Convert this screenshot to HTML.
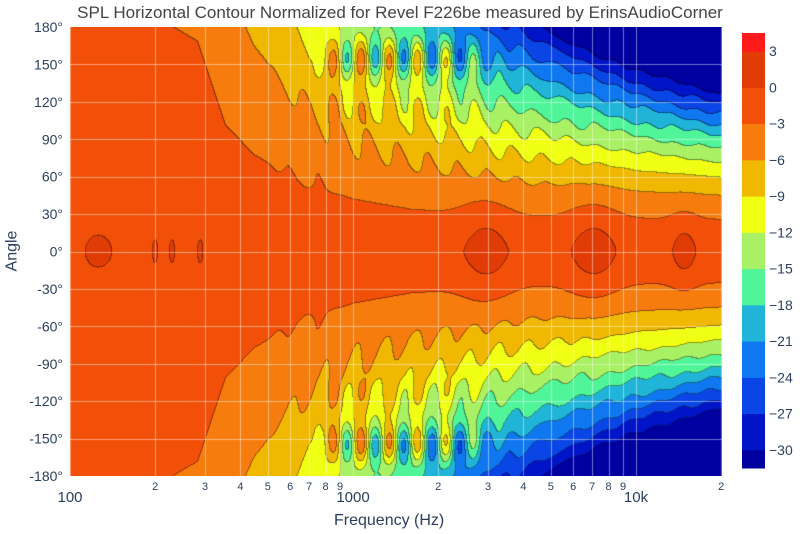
<!DOCTYPE html>
<html><head><meta charset="utf-8"><style>
body{margin:0;background:#fff;width:800px;height:534px;overflow:hidden;position:relative;font-family:"Liberation Sans",sans-serif;color:#2a3f5f}
.t{position:absolute;white-space:nowrap}
#c{position:absolute;left:70px;top:27px}
</style></head><body>
<div class="t" style="left:0;width:800px;top:3px;text-align:center;font-size:17px;color:#444">SPL Horizontal Contour Normalized for Revel F226be measured by ErinsAudioCorner</div>
<canvas id="c" width="652" height="449"></canvas>
<svg style="position:absolute;left:0;top:0" width="800" height="534" id="s"></svg>
<div class="t" style="left:334px;top:512px;font-size:16px">Frequency (Hz)</div>
<div class="t" style="left:-8px;top:242px;font-size:16px;transform:rotate(-90deg)">Angle</div>
<script>
const W=652,H=449,D=283;
const cols=["#0000a0","#0014c8","#0a46e6","#0f78f0","#20b4d8","#50f59a","#a8f064","#f0ff14","#f0b800","#f67c0e","#f25008","#e23c06","#ff1a1a"];
const rgb=cols.map(h=>[parseInt(h.substr(1,2),16),parseInt(h.substr(3,2),16),parseInt(h.substr(5,2),16)]);
const At=[[0,400],[0.2,300],[0.45,250],[0.55,150],[0.65,115],[0.8,85],[1.0,62],[1.2,50],[1.5,41],[2.0,36],[2.35,34]];
function A3(u){for(let i=1;i<At.length;i++){if(u<=At[i][0]){const[a0,b0]=At[i-1],[a1,b1]=At[i];return b0+(b1-b0)*(u-a0)/(a1-a0);}}return 34;}
function cl(x){return Math.max(0,Math.min(1,x));}
function val(u,a){
 const r=a/A3(u);const p=1.3+0.4*Math.max(0,u-1.2);
 let v=-1.2-3*Math.pow(r,p);
 const w=cl((a-100)/50)*cl((u-0.85)/0.12)*cl((1.55-u)/0.2);
 v-=8*w*Math.cos(2*Math.PI*(u-1.08)/0.1)*(0.6+0.4*Math.cos((a-155)*Math.PI/25));
 v+=1.0*cl((a-45)/30)*cl((u-0.7)/0.2)*cl((1.9-u)/0.3)*Math.sin(2*Math.PI*u/0.1+a/20);
 v+=0.8*cl((a-60)/40)*cl((u-1.5)/0.2)*Math.sin(u*47+a/9)*Math.cos(u*23-a/13);
 const bs=[[1.47,0.09,42,2.6],[1.85,0.09,42,2.6],[2.17,0.05,30,2.3],[0.1,0.06,17,2.2],[0.46,0.012,12,2.2],[0.36,0.012,12,2.2],[0.3,0.012,12,2.2]];
 for(const[b,su,sa,am]of bs)v+=am*Math.exp(-Math.pow(Math.abs(u-b)/su,2)-Math.pow(a/sa,2));
 return v;}
const ctx=document.getElementById('c').getContext('2d');
const img=ctx.createImageData(W,H);const band=new Int8Array(W*H);
for(let y=0;y<H;y++){const a=Math.abs(180-360*y/(H-1));for(let x=0;x<W;x++){const u=x/D;const v=val(u,a);let b=Math.floor(v/3)+11;b=Math.max(0,Math.min(12,b));band[y*W+x]=b;}}
for(let y=0;y<H;y++)for(let x=0;x<W;x++){const i=y*W+x,b=band[i];let c=rgb[b];let e=(x<W-1&&band[i+1]!==b)||(y<H-1&&band[i+W]!==b);const k=e?0.6:1;img.data[i*4]=c[0]*k;img.data[i*4+1]=c[1]*k;img.data[i*4+2]=c[2]*k;img.data[i*4+3]=255;}
ctx.putImageData(img,0,0);
ctx.strokeStyle="rgba(255,255,255,0.45)";ctx.lineWidth=1;
for(let d=0;d<3;d++)for(let m=1;m<=9;m++){const f=Math.pow(10,d)*m;const x=Math.round(Math.log10(f)*D)+0.5;if(x>0&&x<W){ctx.beginPath();ctx.moveTo(x,0);ctx.lineTo(x,H);ctx.stroke();}}
for(let k=1;k<12;k++){const y=Math.round(k*H/12)+0.5;ctx.beginPath();ctx.moveTo(0,y);ctx.lineTo(W,y);ctx.stroke();}
let s='';
for(let k=0;k<=12;k++){const ang=180-30*k;const y=27+k*H/12;s+=`<text x="63" y="${y+5}" text-anchor="end" font-size="14" fill="#2a3f5f">${ang}°</text>`;}
const maj={0:'100',1:'1000',2:'10k'};
for(let d=0;d<3;d++)for(let m=1;m<=9;m++){const x=70+Math.log10(m*Math.pow(10,d))*D;if(x>724)continue;
 if(m==1)s+=`<text x="${x}" y="502" text-anchor="middle" font-size="15" fill="#2a3f5f">${maj[d]}</text>`;
 else s+=`<text x="${x}" y="490" text-anchor="middle" font-size="11" fill="#2a3f5f">${m}</text>`;}
const y0=33,y1=468,h=y1-y0;
for(let b=0;b<13;b++){const lo=b==0?-31.5:-33+3*b,hi=b==12?4.5:-30+3*b;const ya=y0+(4.5-hi)/36*h,yb=y0+(4.5-lo)/36*h;
 s+=`<rect x="742" y="${ya}" width="23" height="${yb-ya+0.5}" fill="${cols[b]}"/>`;}
for(let t=3;t>=-30;t-=3){const y=y0+(4.5-t)/36*h;s+=`<text x="769" y="${y+5}" font-size="14" fill="#2a3f5f">${t<0?'−'+(-t):t}</text>`;}
document.getElementById('s').innerHTML=s;
</script>
</body></html>
